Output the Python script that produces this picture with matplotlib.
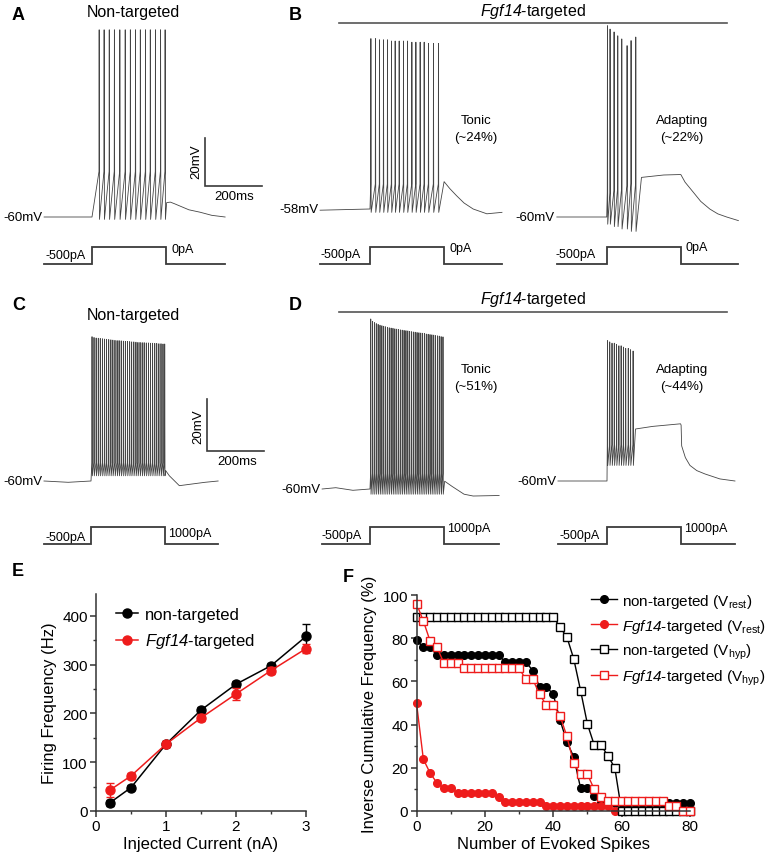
import numpy as np
import matplotlib
matplotlib.use("Agg")
import matplotlib.pyplot as plt
from matplotlib.ticker import MultipleLocator

plt.rcParams['font.family'] = ['Liberation Sans', 'DejaVu Sans']
plt.rcParams['mathtext.fontset'] = 'custom'
plt.rcParams['mathtext.rm'] = 'Liberation Sans'
plt.rcParams['mathtext.it'] = 'Liberation Sans:italic'
plt.rcParams['mathtext.sf'] = 'Liberation Sans:italic'

# ---------------- data: panel E ----------------
E_current = [0.2, 0.5, 1.0, 1.5, 2.0, 2.5, 3.0]
E_nontarg = [17, 48, 137, 207, 260, 298, 358]
E_nontarg_err = [6, 5, 6, 6, 6, 6, 25]
E_fgf14 = [43, 72, 137, 191, 240, 288, 333]
E_fgf14_err = [14, 6, 6, 7, 12, 8, 10]

# ---------------- data: panel F ----------------
F_spikes_all = list(range(0, 82, 2))
F_spikes_red_rest = list(range(0, 62, 2))
F_nt_rest = [79, 75.8, 75.8, 72, 72, 72, 72, 72, 72, 72, 72, 72, 72,
             69, 69, 69, 69, 65, 57.5, 57.5, 54, 42, 32, 25, 10.5, 10.5, 7,
             3.5, 3.5, 3.5, 3.5, 3.5, 3.5, 3.5, 3.5, 3.5, 3.5, 3.5, 3.5, 3.5, 3.5]
F_fg_rest = [50, 24, 17.5, 13, 10.5, 10.5, 8.5, 8.5, 8.5, 8.5,
             8.5, 8.5, 6.5, 4.3, 4.3, 4.3, 4.3, 4.3, 4.3, 2.2,
             2.2, 2.2, 2.2, 2.2, 2.2, 2.2, 2.2, 2.2, 2.2, 0, 0]
F_nt_hyp = [90] * 21 + [85, 80.5, 70.4, 55.7, 40.2, 30.5, 30.5, 25.5, 20] + [0] * 11
F_fg_hyp = [96, 88, 78.6, 75.8, 68.5, 68.5, 68.5, 66, 66, 66, 66, 66, 66, 66, 66, 66,
            61, 61, 54, 49, 49, 44, 34.5, 22, 17, 17, 10, 6.5,
            4.6, 4.6, 4.6, 4.6, 4.6, 4.6, 4.6, 4.6, 4.6, 2.3, 2.3, 0, 0]

# ---------------- data: example traces (time ms from step onset, mV) ----------------
STEP_ON, STEP_OFF = 0, 260
# A non-targeted, 0 pA
A_pre_t, A_pre_v = [-168, 0], [-60, -60]
A_spk_t = [24.6, 42, 60, 78, 97, 116, 134, 152, 169, 187, 204, 222, 240, 256]
A_spk_peak = 18
A_spk_thr = -41
A_spk_trough = -61
A_post_t = [262, 275, 290, 308, 340, 379, 420, 467]
A_post_v = [-54, -53.8, -54.5, -55.4, -57, -58, -59.3, -60]
# B tonic
Bt_pre_t, Bt_pre_v = [-175, 0], [-58.5, -58]
Bt_spk_t = [2.5, 18.6, 32.6, 46.7, 60.7, 74.7, 87.7, 101.8, 116.8, 130.9, 146.3,
            160.4, 175.4, 189.5, 204.6, 222.1, 239.6]
Bt_spk_peak = [13, 13, 12.5, 12.5, 12.5, 12, 12, 12, 12, 12, 11.5, 11.5, 11.5, 11.5, 11, 11, 11]
Bt_spk_thr = -47.6
Bt_spk_trough = -59.4
Bt_post_t = [260, 280, 304, 330, 362, 410, 463]
Bt_post_v = [-46.6, -49.5, -52.5, -55.5, -58, -60, -59.4]
# B adapting
Ba_pre_t, Ba_pre_v = [-175, 0], [-60, -60]
Ba_spk_t = [2, 11.2, 25.3, 38.2, 52.3, 70.9, 84.9, 101.4]
Ba_spk_peak = [19.7, 18.3, 17.1, 15.5, 14.2, 11.4, 13.5, 15]
Ba_spk_thr = [-50, -50, -49, -48, -48, -47, -46, -46]
Ba_spk_trough = [-63, -63, -64, -64, -65, -65, -66, -66]
Ba_post_t = [122, 200, 260, 275, 304, 330, 362, 390, 421, 462]
Ba_post_v = [-43.5, -42.5, -42.3, -45.5, -49.7, -53.5, -56.7, -58.7, -60, -61.5]
# C non-targeted, 1000 pA
C_pre_t, C_pre_v = [-165, -80, 0], [-60, -60.5, -60]
C_spk_t = [3, 10, 17.5, 25, 32, 39.5, 47, 54, 61.5, 69, 76, 83.5, 91, 98, 105.5, 113,
           120, 127.5, 135, 142, 149.5, 157, 164, 171.5, 179, 186, 193.5, 201, 208,
           215.5, 223, 230, 237.5, 245, 252, 258]
C_spk_peak = [-4.5, -4.8, -5, -5.1, -5.2, -5.3, -5.4, -5.5, -5.6, -5.7,
              -5.8, -5.9, -6, -6, -6.1, -6.2, -6.3, -6.3, -6.4, -6.5,
              -6.5, -6.6, -6.7, -6.7, -6.8, -6.8, -6.9, -6.9, -7, -7,
              -7.1, -7.1, -7.2, -7.2, -7.3, -7.3]
C_spk_thr = -53
C_spk_trough = -58
C_post_t, C_post_v = [262, 275, 310, 400, 446], [-56, -58, -61.8, -60.5, -60]
# D tonic
Dt_pre_t, Dt_pre_v = [-168, -120, -60, 0], [-60, -59.5, -60.5, -60]
Dt_spk_t = [2, 8.5, 15, 21.5, 28, 34.5, 41, 47.5, 54, 60.5,
            67, 73.5, 80, 86.5, 93, 99.5, 106, 112.5, 119, 125.5,
            132, 138.5, 145, 151.5, 158, 164.5, 171, 177.5, 184, 190.5,
            197, 203.5, 210, 216.5, 223, 229.5, 236, 242.5, 249, 255.5]
Dt_spk_peak = [5.4, 4.5, 4, 3.6, 3.3, 3, 2.8, 2.6, 2.4, 2.2,
               2, 1.9, 1.8, 1.6, 1.5, 1.4, 1.2, 1.1, 1, 0.9,
               0.8, 0.6, 0.5, 0.4, 0.3, 0.2, 0.1, 0, -0.1, -0.2,
               -0.4, -0.5, -0.6, -0.7, -0.8, -1, -1.1, -1.2, -1.4, -1.5]
Dt_spk_thr = -54
Dt_spk_trough = -62
Dt_post_t, Dt_post_v = [262, 288, 330, 362, 453], [-57, -59, -62, -62.7, -62.5]
# D adapting
Da_pre_t, Da_pre_v = [-172, 0], [-60, -60]
Da_spk_t = [1, 9, 17, 25, 33, 41, 49, 57, 65, 74, 82, 91]
Da_spk_peak = [-6, -6.5, -7, -7, -7.5, -8, -8, -8.5, -9, -9, -9.5, -10]
Da_spk_thr = -46
Da_spk_trough = -54
Da_post_t = [100, 160, 258, 260, 262, 275, 291, 315, 344, 396, 449]
Da_post_v = [-40, -39, -38, -38.5, -46.5, -51, -54, -56, -57.3, -59.2, -60]

STEP_LEVELS = [0, 0, 1, 1, 0, 0]

# ---------------- figure ----------------
W, H = 768, 853
fig = plt.figure(figsize=(W / 100, H / 100), dpi=100)


def px_axes(l, t, r, b):
    return fig.add_axes([l / W, 1 - b / H, (r - l) / W, (b - t) / H])


def mapped_axes(l, t, r, b, x0, sx, y0, v0, sy):
    ax = px_axes(l, t, r, b)
    ax.set_xlim((l - x0) / sx, (r - x0) / sx)
    ax.set_ylim(v0 - (b - y0) / sy, v0 + (y0 - t) / sy)
    ax.set_axis_off()
    return ax


def build_trace(pre_t, pre_v, spk_t, peak, thr, trough, post_t, post_v):
    n = len(spk_t)
    peak = np.broadcast_to(np.asarray(peak, float), (n,))
    thr = np.broadcast_to(np.asarray(thr, float), (n,))
    trough = np.broadcast_to(np.asarray(trough, float), (n,))
    ts, vs = list(pre_t), list(pre_v)
    for ti, pk, th, tr in zip(spk_t, peak, thr, trough):
        ts += [ti, ti + 0.6, ti + 1.6]
        vs += [th, pk, tr]
    ts += list(post_t)
    vs += list(post_v)
    return ts, vs


SX = 0.285
TRACE_COL = '#454545'
STEP_COL = '#3a3a3a'

# overlay for text
ov = fig.add_axes([0, 0, 1, 1])
ov.set_xlim(0, W)
ov.set_ylim(H, 0)
ov.set_axis_off()

panels = [
    (A_pre_t, A_pre_v, A_spk_t, A_spk_peak, A_spk_thr, A_spk_trough, A_post_t, A_post_v, 92, 218, -60, 2.4, 0, 235, 265),
    (Bt_pre_t, Bt_pre_v, Bt_spk_t, Bt_spk_peak, Bt_spk_thr, Bt_spk_trough, Bt_post_t, Bt_post_v, 370, 210, -58, 2.4, 0, 235, 265),
    (Ba_pre_t, Ba_pre_v, Ba_spk_t, Ba_spk_peak, Ba_spk_thr, Ba_spk_trough, Ba_post_t, Ba_post_v, 606.7, 218, -60, 2.4, 0, 235, 265),
    (C_pre_t, C_pre_v, C_spk_t, C_spk_peak, C_spk_thr, C_spk_trough, C_post_t, C_post_v, 91, 482, -60, 2.6, 300, 515, 545),
    (Dt_pre_t, Dt_pre_v, Dt_spk_t, Dt_spk_peak, Dt_spk_thr, Dt_spk_trough, Dt_post_t, Dt_post_v, 370, 490, -60, 2.6, 300, 515, 545),
    (Da_pre_t, Da_pre_v, Da_spk_t, Da_spk_peak, Da_spk_thr, Da_spk_trough, Da_post_t, Da_post_v, 607, 482, -60, 2.6, 300, 515, 545),
]

trace_axes = []
for (pre_t, pre_v, st, pk, th, tr, pt, pv, x0, y0, v0, sy, rt, rb, sl) in panels:
    l = x0 + pre_t[0] * SX - 2
    r = x0 + pt[-1] * SX + 2
    ax = mapped_axes(l, rt, r, rb, x0, SX, y0, v0, sy)
    ts, vs = build_trace(pre_t, pre_v, st, pk, th, tr, pt, pv)
    ax.plot(ts, vs, color=TRACE_COL, lw=0.6, clip_on=False)
    trace_axes.append(ax)
    # current step
    axs = mapped_axes(l, sl - 30, r, sl + 8, x0, SX, sl, 0, 17)
    step_t = [pre_t[0], STEP_ON, STEP_ON, STEP_OFF, STEP_OFF, pt[-1]]
    axs.plot(step_t, STEP_LEVELS, color=STEP_COL, lw=1.3, clip_on=False,
             solid_joinstyle='miter')

# scale bars (20 mV, 200 ms)
for ax, t0, v0 in [(trace_axes[0], 396.5, -47.1), (trace_axes[3], 407, -48.5)]:
    ax.plot([t0, t0, t0 + 200], [v0 + 20, v0, v0], color=STEP_COL, lw=1.2,
            clip_on=False, solid_joinstyle='miter')

# ---------------- texts ----------------
def T(x, y, s, **kw):
    kw.setdefault('fontsize', 9.5)
    kw.setdefault('va', 'center')
    ov.text(x, y, s, **kw)

for lab, x, y in [('A', 12, 15), ('B', 289, 15), ('C', 12, 305), ('D', 289, 305),
                  ('E', 12, 572), ('F', 343, 577)]:
    T(x, y, lab, fontsize=13, fontweight='bold')

FGF = r'$\mathsf{Fgf14}$'
T(133, 12, 'Non-targeted', fontsize=11.5, ha='center')
T(133, 315, 'Non-targeted', fontsize=11.5, ha='center')
T(533, 11, FGF + '-targeted', fontsize=11.5, ha='center')
T(533, 299, FGF + '-targeted', fontsize=11.5, ha='center')
ov.plot([339, 727], [24, 24], color='#555555', lw=1.2)
ov.plot([339, 727], [313, 313], color='#555555', lw=1.2)

for x, y, s in [(43, 218, '-60mV'), (319, 210, '-58mV'), (554, 218, '-60mV'),
                (43, 482, '-60mV'), (321, 490, '-60mV'), (557, 482, '-60mV')]:
    T(x, y, s, ha='right')

for x, y in [(86, 256), (361, 255), (596, 255), (86, 538), (362, 536), (600, 536)]:
    T(x, y, '-500pA', ha='right', fontsize=9)
for x, y, s in [(171, 250, '0pA'), (449, 249, '0pA'), (686, 248, '0pA'),
                (168, 534, '1000pA'), (447, 529, '1000pA'), (684, 529, '1000pA')]:
    T(x, y, s, ha='left', fontsize=9)

for x, y, a, b in [(476, 121, 'Tonic', '(~24%)'), (682, 121, 'Adapting', '(~22%)'),
                   (476, 370, 'Tonic', '(~51%)'), (682, 370, 'Adapting', '(~44%)')]:
    T(x, y, a, ha='center')
    T(x, y + 17, b, ha='center')

T(196, 162, '20mV', rotation=90, ha='center')
T(234, 197, '200ms', ha='center')
T(198, 427, '20mV', rotation=90, ha='center')
T(237, 462, '200ms', ha='center')

# ---------------- panel E ----------------
RED = '#ee1c1c'
axE = px_axes(96, 595, 306, 812)
axE.errorbar(E_current, E_nontarg, yerr=E_nontarg_err, fmt='none', ecolor='black',
             elinewidth=1, capsize=3, capthick=1, clip_on=False)
axE.plot(E_current, E_nontarg, '-o', color='black', ms=6.5, lw=1.1,
         label='non-targeted', clip_on=False)
axE.errorbar(E_current, E_fgf14, yerr=E_fgf14_err, fmt='none', ecolor=RED,
             elinewidth=1, capsize=3, capthick=1, clip_on=False)
axE.plot(E_current, E_fgf14, '-o', color=RED, ms=6.5, lw=1.1,
         label=FGF + '-targeted', clip_on=False)
axE.set_xlim(0, 3)
axE.set_ylim(0, 445)
axE.xaxis.set_major_locator(MultipleLocator(1))
axE.xaxis.set_minor_locator(MultipleLocator(0.5))
axE.yaxis.set_major_locator(MultipleLocator(100))
axE.yaxis.set_minor_locator(MultipleLocator(50))
axE.set_xlabel('Injected Current (nA)', fontsize=12, labelpad=2)
axE.set_ylabel('Firing Frequency (Hz)', fontsize=12, labelpad=4)
axE.legend(loc='upper left', bbox_to_anchor=(108 / W, 1 - 600 / H),
           bbox_transform=fig.transFigure, frameon=False, fontsize=12,
           handlelength=1.3, handletextpad=0.4, labelspacing=0.55, borderpad=0)

# ---------------- panel F ----------------
axF = px_axes(416.5, 596, 690, 812)
axF.plot(F_spikes_all, F_nt_rest, '-o', color='black', ms=5.5, lw=1,
         label=r'non-targeted (V$_{\mathrm{rest}}$)', clip_on=False)
axF.plot(F_spikes_red_rest, F_fg_rest, '-o', color=RED, ms=5.5, lw=1,
         label=FGF + r'-targeted (V$_{\mathrm{rest}}$)', clip_on=False)
axF.plot(F_spikes_all, F_nt_hyp, '-s', color='black', mfc='white', ms=5.5, mew=1,
         lw=1, label=r'non-targeted (V$_{\mathrm{hyp}}$)', clip_on=False)
axF.plot(F_spikes_all, F_fg_hyp, '-s', color=RED, mfc='white', ms=5.5, mew=1,
         lw=1, label=FGF + r'-targeted (V$_{\mathrm{hyp}}$)', clip_on=False)
axF.set_xlim(0, 80)
axF.set_ylim(0, 100)
axF.xaxis.set_major_locator(MultipleLocator(20))
axF.xaxis.set_minor_locator(MultipleLocator(10))
axF.yaxis.set_major_locator(MultipleLocator(20))
axF.yaxis.set_minor_locator(MultipleLocator(10))
axF.set_xlabel('Number of Evoked Spikes', fontsize=12, labelpad=2)
axF.set_ylabel('Inverse Cumulative Frequency (%)', fontsize=12, labelpad=4)
axF.legend(loc='upper left', bbox_to_anchor=(583 / W, 1 - 585 / H),
           bbox_transform=fig.transFigure, frameon=False, fontsize=11,
           handlelength=1.75, handletextpad=0.3, labelspacing=0.45, borderpad=0)

for ax in (axE, axF):
    for s in ('top', 'right'):
        ax.spines[s].set_visible(False)
    for s in ('left', 'bottom'):
        ax.spines[s].set_linewidth(1.1)
        ax.spines[s].set_color('#333333')
    ax.tick_params(which='major', direction='out', length=4, width=1.1,
                   labelsize=11, color='#333333', pad=2)
    ax.tick_params(which='minor', direction='out', length=2.5, width=1,
                   color='#333333')
    ax.set_facecolor('none')

fig.savefig('out.png', dpi=100)
